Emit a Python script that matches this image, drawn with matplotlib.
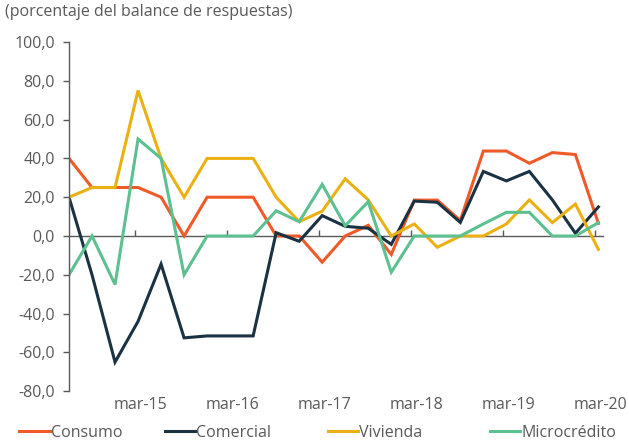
import matplotlib
matplotlib.use("Agg")
import matplotlib.pyplot as plt
import matplotlib.transforms as mtransforms
import numpy as np

plt.rcParams['font.family'] = ['Open Sans', 'DejaVu Sans']

# quarterly: jun-14 ... mar-20
quarters = ["jun-14", "sep-14", "dic-14", "mar-15", "jun-15", "sep-15", "dic-15", "mar-16",
            "jun-16", "sep-16", "dic-16", "mar-17", "jun-17", "sep-17", "dic-17", "mar-18",
            "jun-18", "sep-18", "dic-18", "mar-19", "jun-19", "sep-19", "dic-19", "mar-20"]

consumo = [40, 25, 25, 25, 20, 0, 20, 20, 20, 0, 0, -13.5, 0, 5.5, -9.5, 18.5,
           18.5, 8, 43.8, 43.8, 37.5, 43, 42, 6.5]
comercial = [20, -20, -65, -44, -14.5, -52.5, -51.5, -51.5, -51.5, 1.7, -2.7, 10.5,
             5, 4, -4.3, 18, 17.4, 7, 33.3, 28.4, 33.3, 18.6, 1.4, 15]
vivienda = [20, 25, 25, 75, 40, 20, 40, 40, 40, 20, 7.4, 12.8, 29.5, 18.6, 0, 6.2,
            -5.8, 0, 0, 6.2, 18.6, 6.9, 16.5, -6.9]
microcredito = [-20, 0, -25, 50, 40, -20, 0, 0, 0, 13, 7.4, 26.6, 5.3, 17.7, -18.7, 0,
                0, 0, 6.2, 12.2, 12.2, 0, 0, 6.9]

series_names = ["Consumo", "Comercial", "Vivienda", "Microcrédito"]
series_values = [consumo, comercial, vivienda, microcredito]
colors = ["#F05A28", "#1B3242", "#EBB114", "#5CC091"]

yticks = [-80, -60, -40, -20, 0, 20, 40, 60, 80, 100]
label_idx = [3, 7, 11, 15, 19, 23]

fig = plt.figure(figsize=(6.29, 4.44), dpi=100)
ax = fig.add_axes([0.1097, 0.1189, 0.849, 0.7865])

x = np.arange(len(quarters))
handles = []
for name, vals, c in zip(series_names, series_values, colors):
    h, = ax.plot(x, vals, color=c, lw=2.2, label=name, solid_joinstyle='miter')
    handles.append(h)

gray = "#595959"
ax.set_xlim(0, 23.2)
ax.set_ylim(-80, 100)
ax.set_yticks(yticks)
ax.set_yticklabels([f"{v:.1f}".replace('.', ',') for v in yticks])
ax.tick_params(axis='y', direction='out', length=4, width=1, color=gray,
               labelcolor=gray, labelsize=11.5, pad=6)

for s in ['top', 'right']:
    ax.spines[s].set_visible(False)
ax.spines['left'].set_color(gray)
ax.spines['left'].set_linewidth(1)
ax.spines['bottom'].set_position(('data', 0))
ax.spines['bottom'].set_color(gray)
ax.spines['bottom'].set_linewidth(1)
ax.spines['bottom'].set_zorder(1)

ax.set_xticks([i - 0.15 for i in label_idx])
ax.tick_params(axis='x', direction='in', length=4, width=1, color=gray,
               labelbottom=False)

trans = mtransforms.blended_transform_factory(ax.transData, fig.transFigure)
for i in label_idx:
    ax.text(i + 0.1, 0.088, quarters[i], transform=trans, ha='center', va='center',
            fontsize=11.5, color=gray)

fig.text(0.008, 0.972, "(porcentaje del balance de respuestas)", ha='left', va='center',
         fontsize=11.5, color=gray)

leg_x = [0.031, 0.262, 0.521, 0.779]
for h, lx in zip(handles, leg_x):
    lg = fig.legend(handles=[h], labels=[h.get_label()], loc='center left',
                    bbox_to_anchor=(lx, 0.025), frameon=False, fontsize=11.5,
                    handlelength=1.9, handletextpad=0.05, borderpad=0, borderaxespad=0,
                    labelcolor=gray)

fig.savefig("out.png", dpi=100)
